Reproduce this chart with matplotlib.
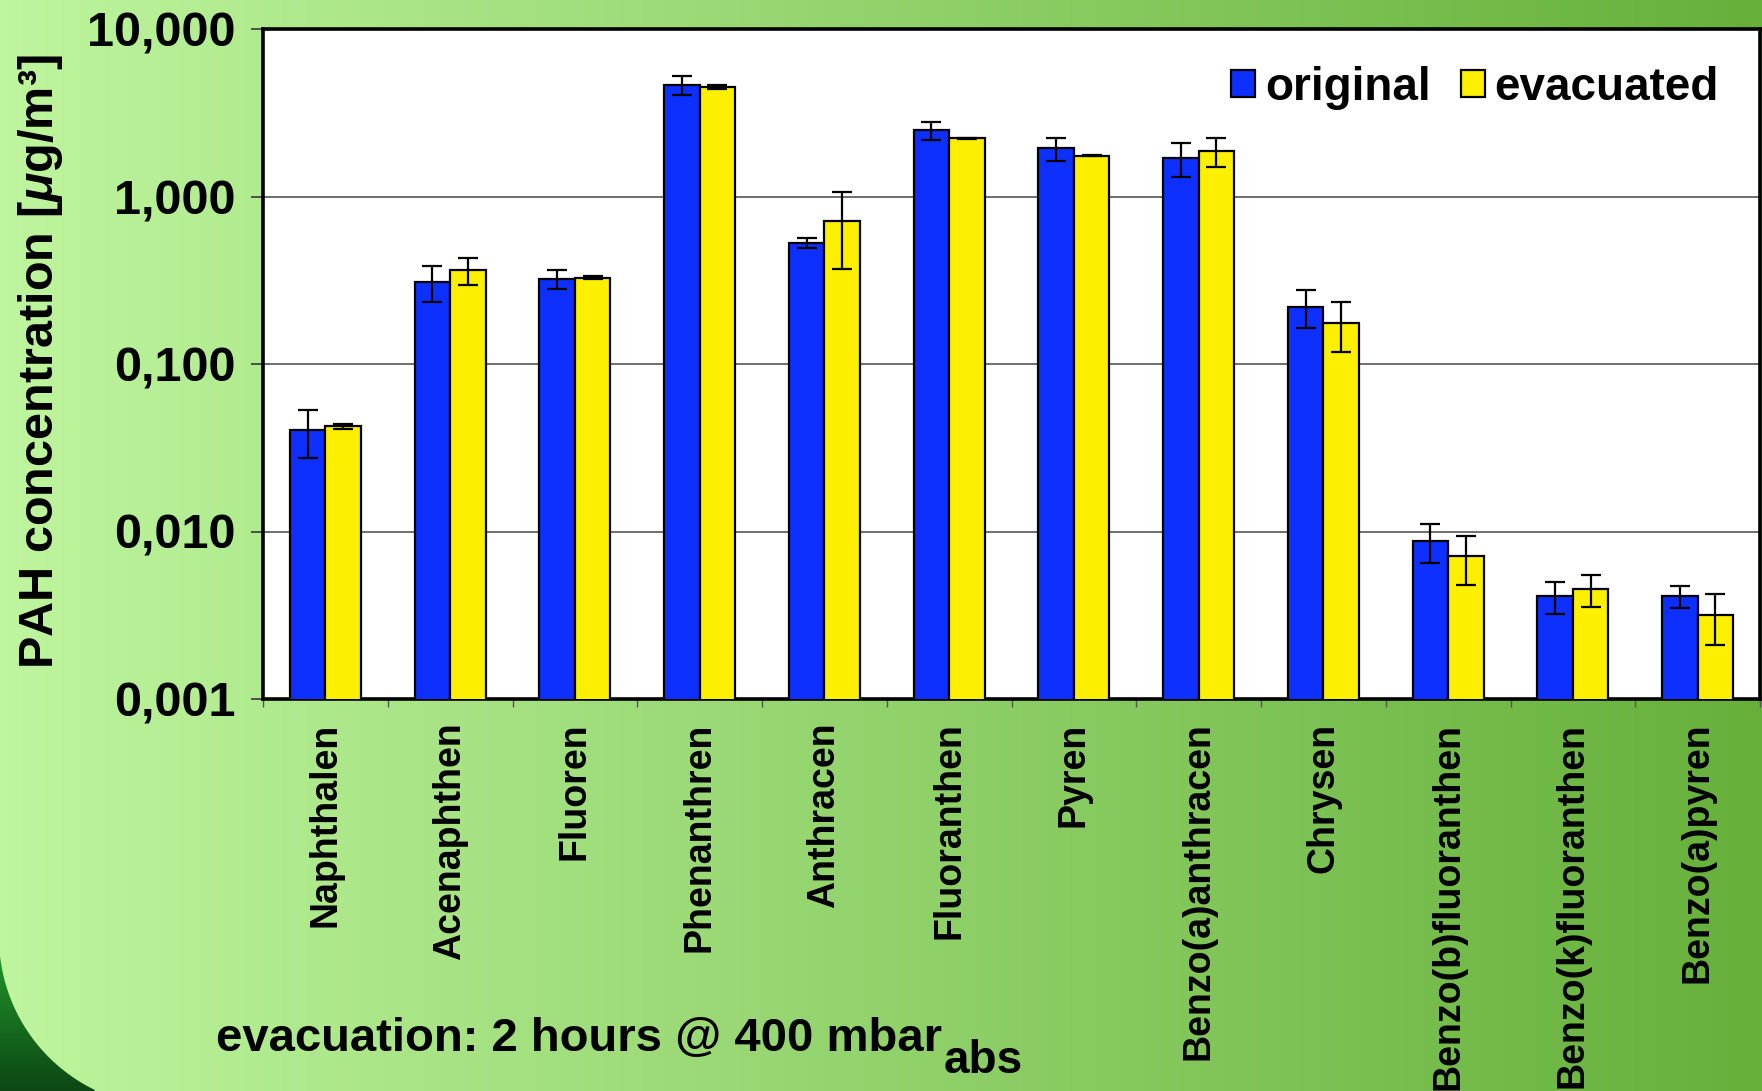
import numpy as np
import matplotlib
matplotlib.use("Agg")
import matplotlib.pyplot as plt
from matplotlib.patches import Patch, PathPatch
from matplotlib.path import Path
from matplotlib.ticker import FixedLocator, FixedFormatter

plt.rcParams['font.family'] = ['Liberation Sans', 'DejaVu Sans']
plt.rcParams['font.weight'] = 'bold'
plt.rcParams['mathtext.fontset'] = 'custom'
plt.rcParams['mathtext.rm'] = 'Liberation Sans:bold'
plt.rcParams['mathtext.it'] = 'Liberation Sans:italic:bold'
plt.rcParams['mathtext.bf'] = 'Liberation Sans:bold'

compounds = ['Naphthalen', 'Acenaphthen', 'Fluoren', 'Phenanthren', 'Anthracen',
             'Fluoranthen', 'Pyren', 'Benzo(a)anthracen', 'Chrysen',
             'Benzo(b)fluoranthen', 'Benzo(k)fluoranthen', 'Benzo(a)pyren']

original = [0.0405, 0.309, 0.322, 4.63, 0.529, 2.48, 1.94, 1.70, 0.220, 0.00875, 0.0041, 0.0041]
original_err = [0.013, 0.074, 0.040, 0.60, 0.033, 0.31, 0.30, 0.40, 0.055, 0.0023, 0.0009, 0.0006]

evacuated = [0.0424, 0.363, 0.328, 4.50, 0.716, 2.23, 1.75, 1.86, 0.1766, 0.00712, 0.00452, 0.00316]
evacuated_err = [0.0015, 0.068, 0.005, 0.12, 0.345, 0.02, 0.01, 0.37, 0.058, 0.0023, 0.0010, 0.00106]

y_ticks = [0.001, 0.01, 0.1, 1, 10]
y_tick_labels = ['0,001', '0,010', '0,100', '1,000', '10,000']

W, H = 1762, 1091
fig = plt.figure(figsize=(W / 100, H / 100), dpi=100)

# green backdrop, light on the left fading to darker green on the right
bg = fig.add_axes([0, 0, 1, 1], zorder=-10)
bg.set_xlim(0, W)
bg.set_ylim(H, 0)
bg.axis('off')
left_c = np.array([190, 245, 158]) / 255
right_c = np.array([102, 176, 58]) / 255
t = np.linspace(0, 1, 400)
grad = left_c[None, :] * (1 - t[:, None]) + right_c[None, :] * t[:, None]
bg.imshow(np.tile(grad[None, :, :], (10, 1, 1)), extent=(0, W, H, 0), aspect='auto')

# dark green swoosh in the lower-left corner
cx, cy, r = 169, 937, 170
ang = np.linspace(np.pi, np.pi / 2, 60)
arc_x = cx + r * np.cos(ang)
arc_y = cy + r * np.sin(ang)
keep = arc_y <= H
verts = [(0, H)] + list(zip(arc_x[keep], arc_y[keep])) + [(arc_x[keep][-1], H), (0, H)]
corner = PathPatch(Path(verts, closed=True), facecolor='none', edgecolor='none')
bg.add_patch(corner)
dark = np.linspace(np.array([38, 160, 48]) / 255, np.array([12, 72, 20]) / 255, 100)
im = bg.imshow(np.tile(dark[:, None, :], (1, 10, 1)), extent=(0, 200, H, 930), aspect='auto')
im.set_clip_path(corner)

ax = fig.add_axes([263 / W, 1 - 699 / H, 1497 / W, 670 / H])
ax.set_facecolor('white')

x = np.arange(len(compounds))
w = 0.284
err_kw = dict(ecolor='black', elinewidth=1.6, capsize=7, capthick=1.6)
ax.bar(x - w / 2, original, w, yerr=original_err, color='#0D30FF',
       edgecolor='black', linewidth=1.6, error_kw=err_kw, label='original', zorder=3)
ax.bar(x + w / 2, evacuated, w, yerr=evacuated_err, color='#FCF000',
       edgecolor='black', linewidth=1.6, error_kw=err_kw, label='evacuated', zorder=3)

ax.set_yscale('log')
ax.set_ylim(0.001, 10)
ax.set_xlim(-0.5, len(compounds) - 0.5)
ax.yaxis.set_major_locator(FixedLocator(y_ticks))
ax.yaxis.set_major_formatter(FixedFormatter(y_tick_labels))
ax.yaxis.set_minor_locator(FixedLocator([]))
ax.grid(axis='y', which='major', color='#555555', linewidth=1.2, zorder=0)
ax.set_axisbelow(True)

ax.tick_params(axis='y', which='major', direction='out', length=9, width=1.3,
               color='#444444', labelsize=35, pad=11)
for lab in ax.get_yticklabels():
    lab.set_fontweight('bold')

# category ticks sit between the groups, names are centred under each group
ax.xaxis.set_major_locator(FixedLocator(np.arange(len(compounds) + 1) - 0.5))
ax.xaxis.set_major_formatter(FixedFormatter([''] * (len(compounds) + 1)))
ax.xaxis.set_minor_locator(FixedLocator(x))
ax.xaxis.set_minor_formatter(FixedFormatter(compounds))
ax.tick_params(axis='x', which='major', direction='out', length=6, width=1.0, color='#555555')
ax.tick_params(axis='x', which='minor', length=0, labelsize=27, pad=17, labelrotation=90)
for lab in ax.xaxis.get_minorticklabels():
    lab.set_fontweight('bold')
    lab.set_va('top')

for s in ax.spines.values():
    s.set_linewidth(2.6)
    s.set_color('black')

ax.set_ylabel('PAH concentration [$\\mu$g/m³]', fontsize=35, fontweight='bold')
ax.yaxis.set_label_coords(-0.132, 0.503)

handles = [Patch(facecolor='#0D30FF', edgecolor='black', linewidth=1.6),
           Patch(facecolor='#FCF000', edgecolor='black', linewidth=1.6)]
ax.legend(handles, ['original', 'evacuated'], loc='center right',
          bbox_to_anchor=(0.9726, 0.912), ncol=2, frameon=False,
          prop={'size': 33, 'weight': 'bold'}, handlelength=0.52, handleheight=0.52,
          handletextpad=0.22, columnspacing=0.65, borderpad=0, borderaxespad=0)

note = fig.text(216 / W, 1 - 1051 / H, 'evacuation: 2 hours @ 400 mbar',
                fontsize=34, fontweight='bold', ha='left', va='baseline')
fig.canvas.draw()
nb = note.get_window_extent()
fig.text(nb.x1 / W + 0.001, 1 - 1073 / H, 'abs', fontsize=33, fontweight='bold',
         ha='left', va='baseline')

fig.savefig('out.png', dpi=100)
